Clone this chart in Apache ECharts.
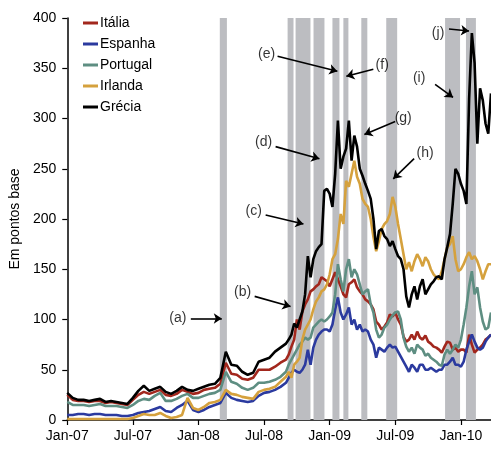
<!DOCTYPE html>
<html>
<head>
<meta charset="utf-8">
<script src="https://cdn.jsdelivr.net/npm/echarts@6/dist/echarts.min.js"></script>
<style>
  html, body { margin: 0; padding: 0; background: #fff; }
  #chart { width: 491px; height: 450px; }
</style>
</head>
<body>
<div id="chart"></div>
<script>
// Sampling grid, in months counted from Jan-2007
const months = [
  0, 0.5, 1, 1.5, 2, 2.5, 3, 3.5, 4, 4.5,
  5, 5.5, 6, 6.5, 7, 7.5, 8, 8.5, 9, 9.5,
  10, 10.5, 11, 11.5, 12, 12.5, 13, 13.5, 14, 14.5,
  15, 15.5, 16, 16.5, 17, 17.5, 18, 18.5, 19, 19.5,
  20, 20.25, 20.5, 20.75, 21, 21.25, 21.5, 21.75,
  22, 22.25, 22.5, 22.75, 23, 23.25, 23.5, 23.75,
  24, 24.25, 24.5, 24.75, 25, 25.25, 25.5, 25.75,
  26, 26.25, 26.5, 26.75, 27, 27.25, 27.5, 27.75,
  28, 28.25, 28.5, 28.75, 29, 29.25, 29.5, 29.75,
  30, 30.25, 30.5, 30.75, 31, 31.25, 31.5, 31.75,
  32, 32.25, 32.5, 32.75, 33, 33.25, 33.5, 33.75,
  34, 34.25, 34.5, 34.75, 35, 35.25, 35.5, 35.75,
  36, 36.25, 36.5, 36.75, 37, 37.25, 37.5, 37.75,
  38, 38.25, 38.5, 38.75
];

const xTickLabels = ['Jan-07', 'Jul-07', 'Jan-08', 'Jul-08', 'Jan-09', 'Jul-09', 'Jan-10'];
const seriesNames = ['Itália', 'Espanha', 'Portugal', 'Irlanda', 'Grécia'];

const italia = [
  25, 20, 19, 19, 18, 19, 19, 17, 18, 17,
  16, 15, 20, 25, 28, 26, 28, 30, 25, 24,
  26, 30, 28, 26, 27, 30, 31, 32, 36, 57,
  46, 45, 41, 40, 42, 50, 50, 50, 53, 57,
  60, 65, 73, 80, 100, 90, 108, 115,
  120, 128, 130, 133, 135, 142, 140, 138,
  133, 140, 147, 140, 133, 125, 122, 135,
  137, 140, 132, 128, 125, 120, 118, 115,
  110, 98, 95, 90, 93, 97, 105, 103,
  107, 100, 95, 83, 78, 80, 85, 80,
  88, 82, 80, 84, 78, 76, 73, 72,
  70, 67, 73, 78, 77, 70, 72, 68,
  70, 70, 67, 85, 75, 67, 70, 72,
  75, 80, 82, 85
];

const espanha = [
  5, 5, 6, 6, 5, 6, 6, 5, 5, 5,
  4, 4, 5, 7, 8, 9, 11, 13, 9, 8,
  12, 15, 19, 10, 8, 10, 13, 15, 17, 27,
  22, 20, 19, 18, 19, 24, 27, 28, 30, 33,
  37, 42, 47, 50, 48, 47, 50, 55,
  70, 55, 72, 80, 85, 88, 90, 90,
  88, 95, 110, 122, 107, 100, 105, 112,
  95, 100, 90, 95, 88, 90, 88, 80,
  75, 62, 72, 70, 68, 72, 75, 72,
  73, 68, 63, 58, 53, 48, 55, 52,
  48, 55, 55, 50, 50, 52, 50, 48,
  50, 50, 55, 55, 58, 62, 55, 55,
  53, 58, 70, 78, 85, 78, 72, 70,
  72, 78, 82, 85
];

const portugal = [
  18, 15, 15, 15, 14, 15, 16, 14, 14, 14,
  13, 12, 15, 19, 21, 20, 24, 27, 19, 19,
  21, 24, 26, 22, 22, 24, 26, 27, 30, 48,
  38, 36, 32, 30, 32, 37, 37, 38, 40, 43,
  48, 55, 60, 65, 70, 75, 78, 82,
  80, 82, 92, 95, 98, 100, 98, 100,
  103, 107, 125, 155, 140, 128, 150, 160,
  142, 150, 145, 135, 125, 128, 130, 115,
  107, 90, 82, 85, 92, 95, 100, 104,
  107, 108, 100, 82, 73, 68, 72, 66,
  75, 72, 70, 64, 66, 62, 60, 58,
  55, 54, 65, 70, 66, 70, 75, 72,
  80, 95, 112, 133, 148, 125, 132, 112,
  98, 90, 92, 107
];

const irlanda = [
  1, 1, 1, 1, 1, 1, 1, 1, 1, 1,
  1, 1, 2, 4, 6, 5, 5, 7, 4, 2,
  3, 5, 22, 12, 10, 13, 17, 18, 20, 30,
  26, 25, 23, 22, 21, 28, 30, 31, 33, 38,
  43, 48, 42, 55, 58, 62, 80, 90,
  95, 100, 110, 118, 122, 128, 130, 135,
  145, 160, 165, 180, 205, 195, 238, 232,
  245, 258, 242, 235, 220, 215, 212, 200,
  182, 168, 178, 190, 195, 198, 205, 222,
  212, 195, 180, 165, 150, 157, 148, 158,
  165, 160, 153, 162, 158, 150, 145, 142,
  140, 148, 160, 172, 175, 183, 160, 148,
  150, 155, 162, 167, 160, 163, 158, 150,
  140, 148, 155, 155
];

const grecia = [
  27, 22, 20, 20, 19, 20, 21, 18, 19, 18,
  17, 16, 22, 29, 34, 29, 31, 33, 28, 26,
  29, 33, 30, 29, 31, 33, 35, 36, 42, 68,
  55, 54, 48, 45, 47, 58, 60, 62, 68, 72,
  76, 80, 85, 96, 92, 100, 108, 125,
  163, 142, 160, 168, 172, 175, 228, 230,
  225, 212, 245, 298, 250, 262, 270, 298,
  258, 283, 272, 250, 243, 235, 228, 220,
  200, 170, 188, 190, 183, 180, 173, 178,
  170, 163, 160, 150, 123, 112, 125, 133,
  120, 133, 140, 125, 130, 135, 138, 142,
  143, 140, 160, 172, 185, 215, 250, 245,
  235, 228, 215, 320, 385, 355, 275, 330,
  318, 295, 285, 325
];

// Shaded event windows (start, end) in months from Jan-2007
const eventBands = [
  [13.95, 14.6], [20.15, 20.69], [20.88, 22.24], [22.52, 23.52],
  [24.25, 24.89], [25.25, 25.71], [26.89, 27.44], [29.17, 30.17],
  [34.55, 35.92], [36.46, 37.37]
];

// Event notes: label position, arrow start and arrow tip (month, bp)
const noteLabels = ['(a)', '(b)', '(c)', '(d)', '(e)', '(f)', '(g)', '(h)', '(i)', '(j)'];
const noteTextAt = [
  [10.12, 101], [16.04, 127], [17.05, 208], [17.96, 276], [18.23, 364],
  [28.8, 353], [30.72, 300], [32.73, 266], [32.18, 340], [33.91, 385]
];
const noteArrowFrom = [
  [11.3, 101], [17.14, 123], [18.14, 204], [19.05, 272], [19.23, 362],
  [27.99, 349], [29.99, 297], [31.72, 260], [33.64, 334], [34.91, 389]
];
const noteArrowTo = [
  [14.13, 101], [20.42, 113], [21.6, 195], [23.06, 260], [24.7, 347],
  [25.52, 342], [27.17, 284], [29.81, 240], [35.28, 321], [36.74, 387]
];

const colors = ['#A2271D', '#2B3A9F', '#5E8E82', '#D5A13D', '#000000'];
const values = [italia, espanha, portugal, irlanda, grecia];

const FONT = 'Liberation Sans, Arial, sans-serif';

function toPairs(vals) {
  return months.map((m, i) => [m, vals[i]]);
}

const lineSeries = seriesNames.map((name, i) => ({
  name: name,
  type: 'line',
  data: toPairs(values[i]),
  showSymbol: false,
  symbol: 'none',
  smooth: false,
  lineStyle: { color: colors[i], width: 2.6 },
  itemStyle: { color: colors[i] },
  z: 3,
  silent: true
}));

const option = {
  animation: false,
  backgroundColor: '#ffffff',
  textStyle: { fontFamily: FONT },
  grid: { left: 65, right: 0, top: 18, bottom: 30, containLabel: false },
  legend: {
    data: seriesNames,
    orient: 'vertical',
    left: 78,
    top: 11,
    itemWidth: 15,
    itemHeight: 3,
    itemGap: 7,
    icon: 'rect',
    textStyle: { fontSize: 14, color: '#000', fontFamily: FONT, padding: [0, 0, 0, -3] }
  },
  xAxis: {
    type: 'value',
    min: 0,
    max: 38.75,
    interval: 6,
    axisLine: { show: true, lineStyle: { color: '#000', width: 1.5 } },
    axisTick: { show: true, inside: false, length: 5, lineStyle: { color: '#000', width: 1.2 } },
    splitLine: { show: false },
    axisLabel: {
      showMaxLabel: false,
      margin: 9,
      fontSize: 14,
      color: '#000',
      fontFamily: FONT,
      formatter: v => xTickLabels[Math.round(v / 6)] || ''
    }
  },
  yAxis: {
    type: 'value',
    min: 0,
    max: 400,
    interval: 50,
    name: 'Em pontos base',
    nameLocation: 'middle',
    nameRotate: 90,
    nameGap: 42,
    nameTextStyle: { fontSize: 14, color: '#000', fontFamily: FONT },
    axisLine: { show: true, lineStyle: { color: '#000', width: 1.5 } },
    axisTick: { show: true, inside: false, length: 5, lineStyle: { color: '#000', width: 1.2 } },
    splitLine: { show: false },
    axisLabel: { margin: 11, fontSize: 14, color: '#000', fontFamily: FONT }
  },
  series: [
    {
      name: 'bands',
      type: 'line',
      data: [],
      silent: true,
      z: 1,
      markArea: {
        silent: true,
        itemStyle: { color: '#BCBDC1' },
        data: eventBands.map(b => [{ xAxis: b[0], yAxis: 0 }, { xAxis: b[1], yAxis: 400 }])
      }
    },
    ...lineSeries,
    {
      name: 'notes',
      type: 'scatter',
      symbolSize: 1,
      itemStyle: { color: 'rgba(0,0,0,0)' },
      silent: true,
      z: 5,
      data: noteLabels.map((t, i) => [noteTextAt[i][0], noteTextAt[i][1], t]),
      label: {
        show: true,
        position: 'inside',
        fontSize: 14,
        color: '#000',
        fontFamily: FONT,
        formatter: p => p.data[2]
      },
      markLine: {
        silent: true,
        symbol: ['none', 'arrow'],
        symbolSize: 8,
        label: { show: false },
        lineStyle: { color: '#000', width: 1.6, type: 'solid' },
        data: noteArrowFrom.map((f, i) => [{ coord: f }, { coord: noteArrowTo[i] }])
      }
    }
  ]
};

const chart = echarts.init(document.getElementById('chart'));
chart.setOption(option);
</script>
</body>
</html>
